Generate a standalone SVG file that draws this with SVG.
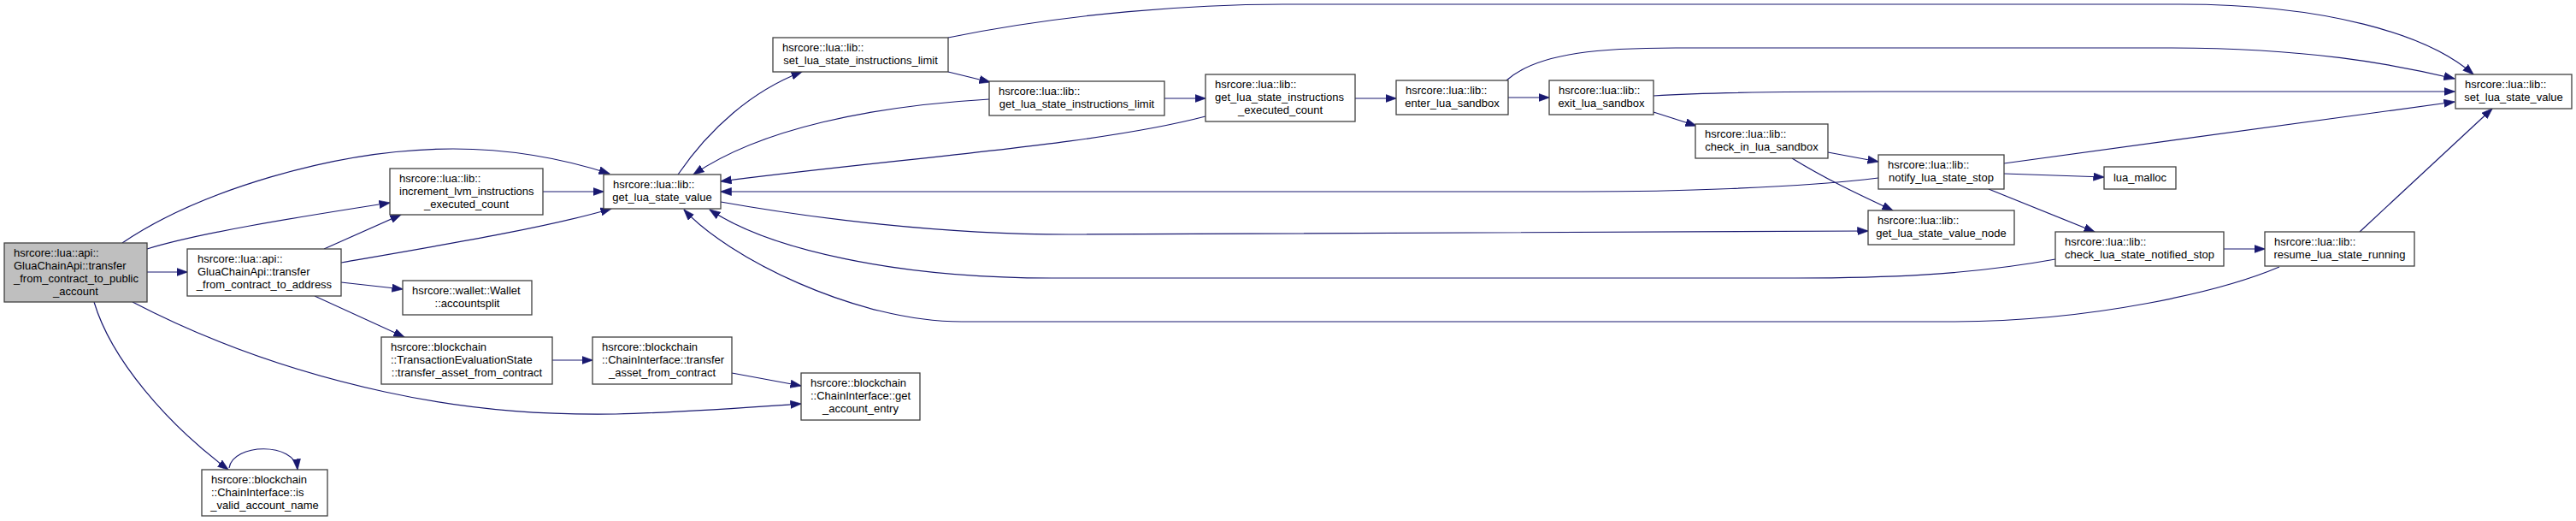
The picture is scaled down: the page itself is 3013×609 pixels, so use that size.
<svg xmlns="http://www.w3.org/2000/svg" width="3013" height="609" viewBox="0 0 3013 609">
<style>
.node rect{fill:#ffffff;stroke:#404040;stroke-width:1.3}
.node.main rect{fill:#bfbfbf}
.node text{font-family:"Liberation Sans",Arial,Helvetica,sans-serif;font-size:13px;fill:#000000}
.node text.c{text-anchor:middle}
.edges path{fill:none;stroke:#191970;stroke-width:1.2;marker-end:url(#ah)}
</style>
<defs>
<marker id="ah" viewBox="0 0 13 10" refX="12.5" refY="5" markerWidth="13" markerHeight="10" markerUnits="userSpaceOnUse" orient="auto">
<path d="M0,0.4 L13,5 L0,9.6 Z" fill="#191970" stroke="#191970" stroke-width="0.6"/>
</marker>
</defs>
<rect x="0" y="0" width="3013" height="609" fill="#ffffff"/>
<g class="edges">
<path id="e1" d="M143,284 C230,225 390,174 530,174 C600,174 660,186 713,203"/>
<path id="e2" d="M172,291 C230,273 340,255 456,237"/>
<path id="e3" d="M172,318 L219,318"/>
<path id="e4" d="M155,353 C230,392 330,432 450,458 C560,482 650,485 720,484 C800,482 880,476 937,472"/>
<path id="e5" d="M110,353 C130,420 195,495 267,549"/>
<path id="e6" d="M268,547 C272,518 345,516 348,549"/>
<path id="e7" d="M379,291 L469,251"/>
<path id="e8" d="M399,307 C520,286 640,266 715,244"/>
<path id="e9" d="M399,330 L471,338"/>
<path id="e10" d="M368,346 L473,394"/>
<path id="e11" d="M635,224 L706,224"/>
<path id="e12" d="M793,204 C830,150 880,106 938,84"/>
<path id="e13" d="M1157,116 C1020,124 890,150 811,204"/>
<path id="e14" d="M1410,136 C1280,170 1060,184 843,212"/>
<path id="e15" d="M2197,208 C2100,220 1950,224 1850,224 L843,224"/>
<path id="e16" d="M843,236 C950,255 1100,274 1250,274 L2185,270"/>
<path id="e17" d="M2404,303 C2300,322 2200,325 2100,325 L1230,325 C1050,325 900,292 830,245"/>
<path id="e18" d="M2666,312 C2600,340 2450,376 2280,376 L1125,376 C1000,376 850,300 800,245"/>
<path id="e19" d="M1109,84 L1158,96"/>
<path id="e20" d="M1109,44 C1250,15 1400,5 1500,5 L2550,5 C2720,5 2840,40 2893,87"/>
<path id="e21" d="M1362,115 L1410,115"/>
<path id="e22" d="M1585,115 L1633,115"/>
<path id="e23" d="M1764,114 L1812,114"/>
<path id="e24" d="M1762,94 C1800,60 1880,56 1960,56 L2535,56 C2700,56 2800,75 2871,92"/>
<path id="e25" d="M1934,112 C2000,108 2100,107 2200,107 L2871,107"/>
<path id="e26" d="M1934,131 L1984,147"/>
<path id="e27" d="M2138,178 L2197,189"/>
<path id="e28" d="M2096,185 C2140,212 2180,230 2214,246"/>
<path id="e29" d="M2344,191 L2871,119"/>
<path id="e30" d="M2344,203 L2461,207"/>
<path id="e31" d="M2326,221 L2450,271"/>
<path id="e32" d="M2601,291 L2649,291"/>
<path id="e33" d="M2760,271 L2915,127"/>
<path id="e34" d="M646,421 L693,421"/>
<path id="e35" d="M856,436 L937,451"/>
</g>
<g id="n0" class="node main"><rect x="5" y="284" width="167" height="69"/>
<text x="16" y="299.5">hsrcore::lua::api::</text><text x="16" y="314.5">GluaChainApi::transfer</text><text x="16" y="329.5">_from_contract_to_public</text><text class="c" x="88.5" y="344.5">_account</text></g>
<g id="n1" class="node"><rect x="219" y="291" width="180" height="55"/>
<text x="231" y="307">hsrcore::lua::api::</text><text x="231" y="322">GluaChainApi::transfer</text><text class="c" x="309" y="337">_from_contract_to_address</text></g>
<g id="n2" class="node"><rect x="456" y="197" width="179" height="54"/>
<text x="467" y="212.5">hsrcore::lua::lib::</text><text x="467" y="227.5">increment_lvm_instructions</text><text class="c" x="545.5" y="242.5">_executed_count</text></g>
<g id="n3" class="node"><rect x="706" y="204" width="137" height="40"/>
<text x="717" y="220">hsrcore::lua::lib::</text><text class="c" x="774.5" y="235">get_lua_state_value</text></g>
<g id="n4" class="node"><rect x="904" y="44" width="205" height="40"/>
<text x="915" y="60">hsrcore::lua::lib::</text><text class="c" x="1006.5" y="75">set_lua_state_instructions_limit</text></g>
<g id="n5" class="node"><rect x="1157" y="95" width="205" height="40"/>
<text x="1168" y="111">hsrcore::lua::lib::</text><text class="c" x="1259.5" y="126">get_lua_state_instructions_limit</text></g>
<g id="n6" class="node"><rect x="1410" y="87" width="175" height="55"/>
<text x="1421" y="103">hsrcore::lua::lib::</text><text x="1421" y="118">get_lua_state_instructions</text><text class="c" x="1497.5" y="133">_executed_count</text></g>
<g id="n7" class="node"><rect x="1633" y="94" width="131" height="40"/>
<text x="1644" y="110">hsrcore::lua::lib::</text><text class="c" x="1698.5" y="125">enter_lua_sandbox</text></g>
<g id="n8" class="node"><rect x="1812" y="94" width="122" height="40"/>
<text x="1823" y="110">hsrcore::lua::lib::</text><text class="c" x="1873" y="125">exit_lua_sandbox</text></g>
<g id="n9" class="node"><rect x="1983" y="145" width="155" height="40"/>
<text x="1994" y="161">hsrcore::lua::lib::</text><text class="c" x="2060.5" y="176">check_in_lua_sandbox</text></g>
<g id="n10" class="node"><rect x="2197" y="181" width="147" height="40"/>
<text x="2208" y="197">hsrcore::lua::lib::</text><text class="c" x="2270.5" y="212">notify_lua_state_stop</text></g>
<g id="n11" class="node"><rect x="2185" y="246" width="171" height="40"/>
<text x="2196" y="262">hsrcore::lua::lib::</text><text class="c" x="2270.5" y="277">get_lua_state_value_node</text></g>
<g id="n12" class="node"><rect x="2461" y="195" width="84" height="26"/>
<text class="c" x="2503" y="211.5">lua_malloc</text></g>
<g id="n13" class="node"><rect x="2404" y="271" width="197" height="40"/>
<text x="2415" y="287">hsrcore::lua::lib::</text><text class="c" x="2502.5" y="302">check_lua_state_notified_stop</text></g>
<g id="n14" class="node"><rect x="2649" y="271" width="175" height="40"/>
<text x="2660" y="287">hsrcore::lua::lib::</text><text class="c" x="2736.5" y="302">resume_lua_state_running</text></g>
<g id="n15" class="node"><rect x="2872" y="87" width="136" height="40"/>
<text x="2883" y="103">hsrcore::lua::lib::</text><text class="c" x="2940" y="118">set_lua_state_value</text></g>
<g id="n16" class="node"><rect x="471" y="328" width="151" height="40"/>
<text x="482" y="344">hsrcore::wallet::Wallet</text><text class="c" x="546.5" y="359">::accountsplit</text></g>
<g id="n17" class="node"><rect x="446" y="394" width="200" height="55"/>
<text x="457" y="410">hsrcore::blockchain</text><text x="457" y="425">::TransactionEvaluationState</text><text class="c" x="546" y="440">::transfer_asset_from_contract</text></g>
<g id="n18" class="node"><rect x="693" y="394" width="163" height="55"/>
<text x="704" y="410">hsrcore::blockchain</text><text x="704" y="425">::ChainInterface::transfer</text><text class="c" x="774.5" y="440">_asset_from_contract</text></g>
<g id="n19" class="node"><rect x="937" y="436" width="139" height="55"/>
<text x="948" y="452">hsrcore::blockchain</text><text x="948" y="467">::ChainInterface::get</text><text class="c" x="1006.5" y="482">_account_entry</text></g>
<g id="n20" class="node"><rect x="236" y="549" width="147" height="54"/>
<text x="247" y="564.5">hsrcore::blockchain</text><text x="247" y="579.5">::ChainInterface::is</text><text class="c" x="309.5" y="594.5">_valid_account_name</text></g>
</svg>
